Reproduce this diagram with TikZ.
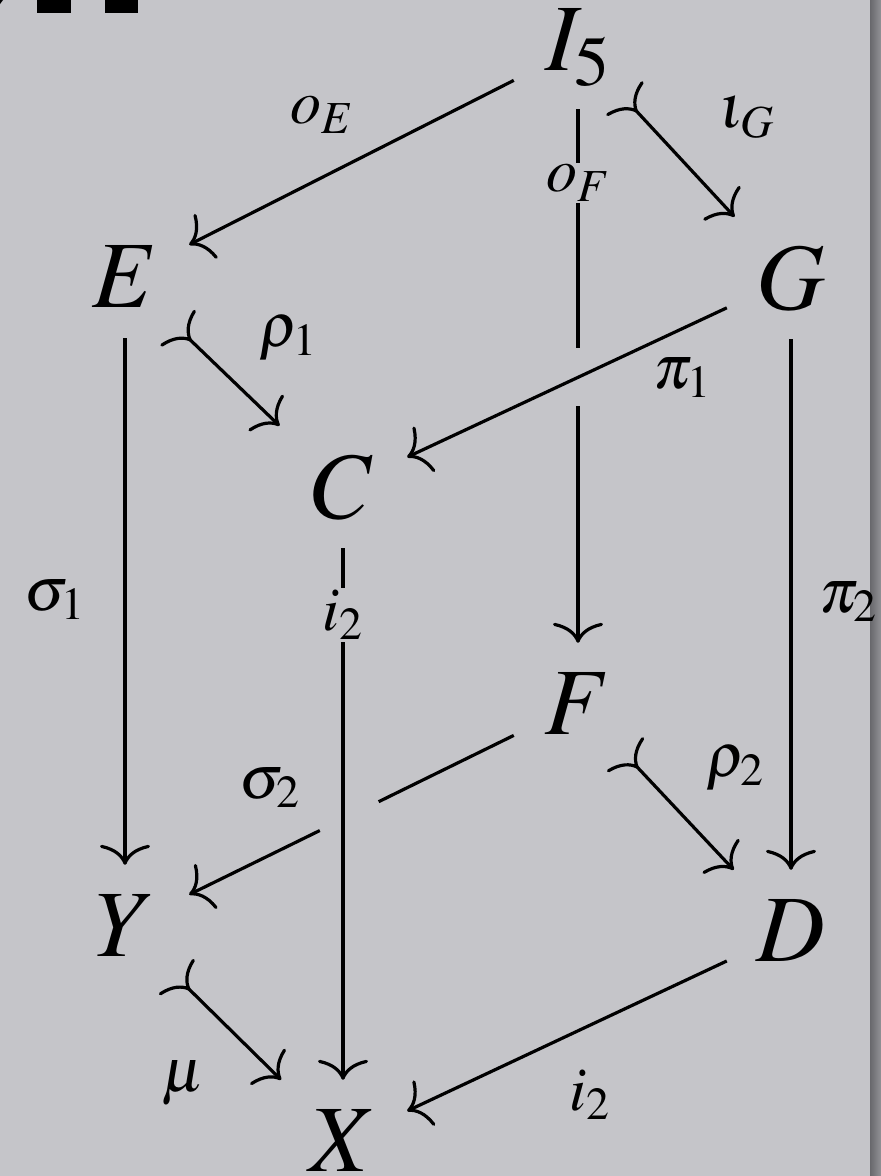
\documentclass[tikz,border=0pt]{standalone}
\usepackage{mathptmx}
\usetikzlibrary{arrows.meta, calc}

\definecolor{brushed}{RGB}{197,197,201}
\definecolor{edgedark}{RGB}{104,104,108}
\definecolor{edgelight}{RGB}{146,146,150}

\begin{document}
\begin{tikzpicture}[
    x=1pt, y=-1pt,
    obj/.style={font=\fontsize{95}{100}\selectfont, minimum width=128pt, minimum height=122pt, inner sep=0pt},
    lbl/.style={font=\fontsize{62}{66}\selectfont, inner sep=2pt},
    arr/.style={line width=3.2pt, -{To[length=20pt, width=50pt]}},
    mono/.style={line width=3.2pt, {To[reversed, length=20pt, width=50pt]}-{To[length=20pt, width=50pt]}, shorten <=-16pt},
    plain/.style={line width=3.2pt},
]

% background plate
\fill[brushed] (0,0) rectangle (881,1176);
\shade[left color=edgedark, right color=edgelight] (870,0) rectangle (881,1176);
\useasboundingbox (0,0) rectangle (881,1176);
\fill (37,0) rectangle (71,13);
\fill (105,0) rectangle (138,13);
\fill (0,0) -- (3,0) -- (0,4) -- cycle;

% objects of the cube
\node[obj] (I5) at (578,48) {$I_5$};
\node[obj] (E) at (125,277) {$E$};
\node[obj] (G) at (791,278) {$G$};
\node[obj] (C) at (343,487) {$C$};
\node[obj] (F) at (578,704) {$F$};
\node[obj] (Y) at (125,926) {$Y$};
\node[obj] (D) at (791,931) {$D$};
\node[obj] (X) at (343,1141) {$X$};

% labels sitting on their lines
\node[lbl] (oF) at (578,183) {$o_F$};
\node[lbl] (i2a) at (343,615) {$i_2$};

% gaps where a line passes under another
\coordinate (gapA) at ($(I5)!0.457!(F)$);
\coordinate (gapB) at ($(I5)!0.546!(F)$);
\coordinate (gapC) at ($(F)!0.44!(Y)$);
\coordinate (gapD) at ($(F)!0.57!(Y)$);

\draw[arr] (I5) -- (E);
\draw[mono] (I5) -- (G);
\draw[plain] (I5) -- (oF);
\draw[plain] (oF) -- (gapA);
\draw[arr] (gapB) -- (F);
\draw[arr] (E) -- (Y);
\draw[mono] (E) -- (C);
\draw[arr] (G) -- (C);
\draw[arr] (G) -- (D);
\draw[plain] (C) -- (i2a);
\draw[arr] (i2a) -- (X);
\draw[plain] (F) -- (gapC);
\draw[arr] (gapD) -- (Y);
\draw[mono] (F) -- (D);
\draw[mono] (Y) -- (X);
\draw[arr] (D) -- (X);

% the other labels
\node[lbl] (oE) at (322,115) {$o_E$};
\node[lbl] (iG) at (747,117) {$\iota_G$};
\node[lbl] (r1) at (288,338) {$\rho_1$};
\node[lbl] (p1) at (682,378) {$\pi_1$};
\node[lbl] (s1) at (55,600) {$\sigma_1$};
\node[lbl] (p2) at (848,602) {$\pi_2$};
\node[lbl] (s2) at (270,788) {$\sigma_2$};
\node[lbl] (r2) at (735,768) {$\rho_2$};
\node[lbl] (mu) at (183,1083) {$\mu$};
\node[lbl] (i2b) at (590,1095) {$i_2$};

\end{tikzpicture}
\end{document}
